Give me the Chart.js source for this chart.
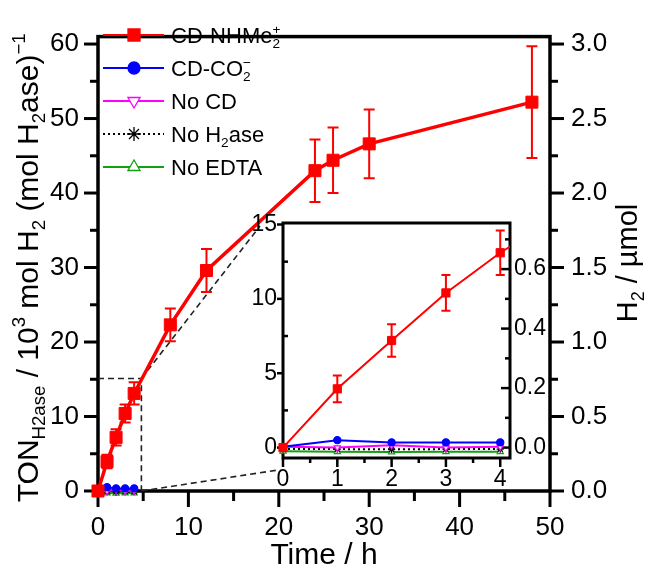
<!DOCTYPE html>
<html><head><meta charset="utf-8">
<script src="https://cdn.jsdelivr.net/npm/chart.js@4.4.1/dist/chart.umd.min.js"></script>
<style>
html,body{margin:0;padding:0;background:#fff;}
#wrap{position:relative;width:645px;height:573px;overflow:hidden;}
#main{position:absolute;left:0;top:0;}
#inset{position:absolute;left:230px;top:195px;}
</style></head>
<body><div id="wrap"><canvas id="main" width="645" height="573"></canvas><canvas id="inset" width="350" height="305"></canvas></div>
<script>
// ---------------- data ----------------
const seriesNames = ['CD-NHMe2+', 'CD-CO2-', 'No CD', 'No H2ase', 'No EDTA'];
const timeNH   = [0, 1, 2, 3, 4, 8, 12, 24, 26, 30, 48];
const tonNH    = [0, 3.95, 7.2, 10.4, 13.1, 22.3, 29.6, 43.0, 44.4, 46.6, 52.2];
const errNH    = [0, 0.9, 1.1, 1.2, 1.5, 2.2, 2.9, 4.2, 4.4, 4.6, 7.5];
const timeCtrl = [0, 1, 2, 3, 4];
const tonCO2     = [0.05, 0.5, 0.35, 0.35, 0.35];
const tonNoCD    = [0.05, 0.0, 0.15, 0.0, 0.05];
const tonNoH2ase = [-0.1, -0.1, -0.12, -0.1, -0.1];
const tonNoEDTA  = [-0.25, -0.28, -0.3, -0.28, -0.28];
const mainXTicks  = [0, 10, 20, 30, 40, 50];
const mainYTicks  = [0, 10, 20, 30, 40, 50, 60];
const mainY2Ticks = [0, 0.5, 1.0, 1.5, 2.0, 2.5, 3.0];
const insetXTicks  = [0, 1, 2, 3, 4];
const insetYTicks  = [0, 5, 10, 15];
const insetY2Ticks = [0, 0.2, 0.4, 0.6];
const TON_PER_UMOL = 20;   // 1 umol H2  <->  20 x10^3 TON
const MAIN_RANGE  = {xMin: 0, xMax: 50, yMin: 0, yMax: 61};
const INSET_RANGE = {xMin: 0, xMax: 4.18, yMin: -0.7, yMax: 15.1};
const ZOOM_BOX_X = 4.8;

// ---------------- styles ----------------
const FF = '"Liberation Sans", Arial, Helvetica, sans-serif';
const INSET_LEFT = 230, INSET_TOP = 195;
const styles = [
  {color: '#ff0000', fill: '#ff0000', pointStyle: 'rect', rotation: 0, dash: []},
  {color: '#0000ff', fill: '#0000ff', pointStyle: 'circle', rotation: 0, dash: []},
  {color: '#ff00ff', fill: '#ffffff', pointStyle: 'triangle', rotation: 180, dash: []},
  {color: '#000000', fill: '#000000', pointStyle: 'star', rotation: 0, dash: [2, 3]},
  {color: '#12a012', fill: '#ffffff', pointStyle: 'triangle', rotation: 0, dash: []}
];
const legendParts = [
  [{t: 'CD-NHMe'}, {k: 'both', t: '2', t2: '+'}],
  [{t: 'CD-CO'}, {k: 'both', t: '2', t2: '\u2212'}],
  [{t: 'No CD'}],
  [{t: 'No H'}, {k: 'sub', t: '2'}, {t: 'ase'}],
  [{t: 'No EDTA'}]
];

function pts(xs, ys) { return xs.map((x, i) => ({x: x, y: ys[i]})); }
const seriesData = [pts(timeNH, tonNH), pts(timeCtrl, tonCO2), pts(timeCtrl, tonNoCD), pts(timeCtrl, tonNoH2ase), pts(timeCtrl, tonNoEDTA)];

function makeDatasets(big) {
  return seriesData.map((d, i) => {
    const s = styles[i];
    const isMain = i === 0;
    return {
      label: seriesNames[i], data: d,
      borderColor: s.color, backgroundColor: s.fill,
      borderWidth: isMain ? (big ? 3.5 : 2) : 2,
      borderDash: s.dash,
      pointStyle: s.pointStyle, pointRotation: s.rotation,
      pointRadius: isMain ? (big ? 8.5 : 5.8) : 3.6,
      pointBorderColor: s.color, pointBackgroundColor: s.fill,
      pointBorderWidth: isMain ? 1 : 1.2,
      tension: 0,
      clip: big ? false : {left: 8, top: 0, right: 0, bottom: 8},
      order: i
    };
  });
}

// -------------- rich text ---------------
function setFont(ctx, size) { ctx.font = size + 'px ' + FF; }
function richWidth(ctx, parts, F) {
  let w = 0;
  for (const p of parts) {
    if (!p.k) { setFont(ctx, F); w += ctx.measureText(p.t).width; }
    else if (p.k === 'both') { setFont(ctx, F * 0.62); w += Math.max(ctx.measureText(p.t).width, ctx.measureText(p.t2).width); }
    else { setFont(ctx, F * 0.62); w += ctx.measureText(p.t).width; }
  }
  return w;
}
function drawRich(ctx, parts, x, y, F, align) {
  const w = richWidth(ctx, parts, F);
  let cx = align === 'center' ? x - w / 2 : (align === 'right' ? x - w : x);
  ctx.textAlign = 'left'; ctx.textBaseline = 'alphabetic'; ctx.fillStyle = '#000';
  const base = y + F * 0.36;
  for (const p of parts) {
    if (!p.k) { setFont(ctx, F); ctx.fillText(p.t, cx, base); cx += ctx.measureText(p.t).width; }
    else if (p.k === 'sub') { setFont(ctx, F * 0.62); ctx.fillText(p.t, cx, base + F * 0.24); cx += ctx.measureText(p.t).width; }
    else if (p.k === 'sup') { setFont(ctx, F * 0.62); ctx.fillText(p.t, cx, base - F * 0.42); cx += ctx.measureText(p.t).width; }
    else {
      setFont(ctx, F * 0.62);
      ctx.fillText(p.t, cx, base + F * 0.24);
      ctx.fillText(p.t2, cx, base - F * 0.42);
      cx += Math.max(ctx.measureText(p.t).width, ctx.measureText(p.t2).width);
    }
  }
}

function minorsOf(ticks, lo, hi) {
  const out = [];
  const step = ticks[1] - ticks[0];
  for (let i = 0; i < ticks.length; i++) {
    const m = ticks[i] + step / 2;
    if (m <= hi + 1e-9) out.push(m);
    if (i === 0 && ticks[0] - step / 2 >= lo) out.push(ticks[0] - step / 2);
  }
  return out;
}

function drawErrorBars(chart, half, lw) {
  const ctx = chart.ctx, meta = chart.getDatasetMeta(0), ys = chart.scales.y;
  ctx.save(); ctx.strokeStyle = styles[0].color; ctx.lineWidth = lw; ctx.setLineDash([]);
  meta.data.forEach((el, i) => {
    const e = errNH[i];
    if (!e || timeNH[i] > chart.scales.x.max) return;
    const yt = ys.getPixelForValue(tonNH[i] + e), yb = ys.getPixelForValue(tonNH[i] - e);
    ctx.beginPath();
    ctx.moveTo(el.x, yt); ctx.lineTo(el.x, yb);
    ctx.moveTo(el.x - half, yt); ctx.lineTo(el.x + half, yt);
    ctx.moveTo(el.x - half, yb); ctx.lineTo(el.x + half, yb);
    ctx.stroke();
  });
  ctx.restore();
}

function tickFix(list) { return s => { s.ticks = list.map(v => ({value: v})); }; }

// ---------------- inset chart ----------------
const insetPlugin = {
  id: 'insetDeco',
  beforeDraw(chart) {
    const a = chart.chartArea, ctx = chart.ctx;
    ctx.save(); ctx.fillStyle = '#fff'; ctx.fillRect(a.left, a.top, a.right - a.left, a.bottom - a.top); ctx.restore();
  },
  beforeDatasetsDraw(chart) {
    const a = chart.chartArea, ctx = chart.ctx;
    const sx = chart.scales.x, sy = chart.scales.y, sy2 = chart.scales.y2;
    ctx.save();
    ctx.strokeStyle = '#000'; ctx.setLineDash([]);
    ctx.lineWidth = 2.5;
    insetXTicks.forEach(v => { const x = sx.getPixelForValue(v); ctx.beginPath(); ctx.moveTo(x, a.bottom); ctx.lineTo(x, a.bottom + 9); ctx.stroke(); });
    minorsOf(insetXTicks, INSET_RANGE.xMin, INSET_RANGE.xMax).forEach(v => { const x = sx.getPixelForValue(v); ctx.beginPath(); ctx.moveTo(x, a.bottom); ctx.lineTo(x, a.bottom + 5); ctx.stroke(); });
    insetYTicks.forEach(v => { const y = sy.getPixelForValue(v); ctx.beginPath(); ctx.moveTo(a.left, y); ctx.lineTo(a.left - 6, y); ctx.stroke(); });
    minorsOf(insetYTicks, INSET_RANGE.yMin, INSET_RANGE.yMax).forEach(v => { const y = sy.getPixelForValue(v); ctx.beginPath(); ctx.moveTo(a.left, y); ctx.lineTo(a.left + 5, y); ctx.stroke(); });
    insetY2Ticks.forEach(v => { const y = sy2.getPixelForValue(v); ctx.beginPath(); ctx.moveTo(a.right, y); ctx.lineTo(a.right - 9, y); ctx.stroke(); });
    minorsOf(insetY2Ticks, sy2.min, sy2.max).forEach(v => { const y = sy2.getPixelForValue(v); ctx.beginPath(); ctx.moveTo(a.right, y); ctx.lineTo(a.right - 5, y); ctx.stroke(); });
    ctx.lineWidth = 3;
    ctx.strokeRect(a.left, a.top, a.right - a.left, a.bottom - a.top);
    ctx.restore();
    drawErrorBars(chart, 4.5, 2);
  }
};
const insetTickFont = {family: FF, size: 23};
const insetChart = new Chart(document.getElementById('inset'), {
  type: 'line',
  data: {datasets: makeDatasets(false)},
  options: {
    responsive: false, animation: false, events: [],
    layout: {padding: {top: 28, left: 0, right: 0, bottom: 0}},
    plugins: {legend: {display: false}, tooltip: {enabled: false}},
    scales: {
      x: {type: 'linear', position: 'bottom', min: INSET_RANGE.xMin, max: INSET_RANGE.xMax,
          grid: {display: false, drawTicks: false}, border: {display: false},
          afterBuildTicks: tickFix(insetXTicks), afterFit: s => { s.height = 42; },
          ticks: {font: insetTickFont, color: '#000', padding: 8, autoSkip: false, maxRotation: 0}},
      y: {type: 'linear', position: 'left', min: INSET_RANGE.yMin, max: INSET_RANGE.yMax,
          grid: {display: false, drawTicks: false}, border: {display: false},
          afterBuildTicks: tickFix(insetYTicks), afterFit: s => { s.width = 53; },
          ticks: {font: insetTickFont, color: '#000', padding: 6, autoSkip: false}},
      y2: {type: 'linear', position: 'right', min: INSET_RANGE.yMin / TON_PER_UMOL, max: INSET_RANGE.yMax / TON_PER_UMOL,
          grid: {display: false, drawTicks: false}, border: {display: false},
          afterBuildTicks: tickFix(insetY2Ticks), afterFit: s => { s.width = 70; },
          ticks: {font: insetTickFont, color: '#000', padding: 4, autoSkip: false, callback: v => Number(v).toFixed(1)}}
    }
  },
  plugins: [insetPlugin]
});

// ---------------- main chart ----------------
const leftTitle = [{t: 'TON'}, {k: 'sub', t: 'H2ase'}, {t: ' / 10'}, {k: 'sup', t: '3'}, {t: ' mol H'}, {k: 'sub', t: '2'},
                   {t: ' (mol H'}, {k: 'sub', t: '2'}, {t: 'ase)'}, {k: 'sup', t: '\u22121'}];
const rightTitle = [{t: 'H'}, {k: 'sub', t: '2'}, {t: ' / \u00b5mol'}];
const bottomTitle = [{t: 'Time / h'}];

const mainPlugin = {
  id: 'mainDeco',
  beforeDatasetsDraw(chart) {
    const a = chart.chartArea, ctx = chart.ctx;
    const sx = chart.scales.x, sy = chart.scales.y, sy2 = chart.scales.y2;
    ctx.save();
    ctx.strokeStyle = '#000'; ctx.setLineDash([]);
    ctx.lineWidth = 3;
    mainXTicks.forEach(v => { const x = sx.getPixelForValue(v); ctx.beginPath(); ctx.moveTo(x, a.bottom); ctx.lineTo(x, a.bottom + 16); ctx.stroke(); });
    minorsOf(mainXTicks, MAIN_RANGE.xMin, MAIN_RANGE.xMax).forEach(v => { const x = sx.getPixelForValue(v); ctx.beginPath(); ctx.moveTo(x, a.bottom); ctx.lineTo(x, a.bottom + 10); ctx.stroke(); });
    mainYTicks.forEach(v => { const y = sy.getPixelForValue(v); ctx.beginPath(); ctx.moveTo(a.left, y); ctx.lineTo(a.left - 14, y); ctx.stroke(); });
    minorsOf(mainYTicks, MAIN_RANGE.yMin, MAIN_RANGE.yMax).forEach(v => { const y = sy.getPixelForValue(v); ctx.beginPath(); ctx.moveTo(a.left, y); ctx.lineTo(a.left - 8, y); ctx.stroke(); });
    mainY2Ticks.forEach(v => { const y = sy2.getPixelForValue(v); ctx.beginPath(); ctx.moveTo(a.right, y); ctx.lineTo(a.right + 14, y); ctx.stroke(); });
    minorsOf(mainY2Ticks, sy2.min, sy2.max).forEach(v => { const y = sy2.getPixelForValue(v); ctx.beginPath(); ctx.moveTo(a.right, y); ctx.lineTo(a.right + 8, y); ctx.stroke(); });
    ctx.lineWidth = 3.5;
    ctx.strokeRect(a.left, a.top, a.right - a.left, a.bottom - a.top);

    // zoom box + connector lines
    const ia = insetChart.chartArea;
    const bx = sx.getPixelForValue(ZOOM_BOX_X), byT = sy.getPixelForValue(INSET_RANGE.yMax), byB = sy.getPixelForValue(0);
    ctx.strokeStyle = '#222'; ctx.lineWidth = 1.6; ctx.setLineDash([6, 4]);
    ctx.beginPath();
    ctx.moveTo(a.left, byT); ctx.lineTo(bx, byT); ctx.lineTo(bx, byB);
    ctx.moveTo(bx, byT); ctx.lineTo(INSET_LEFT + ia.left - 23, INSET_TOP + ia.top + 3);
    ctx.moveTo(bx, byB); ctx.lineTo(INSET_LEFT + ia.left - 5, INSET_TOP + ia.bottom + 12);
    ctx.stroke();
    ctx.setLineDash([]);
    ctx.restore();
    drawErrorBars(chart, 5.5, 2);
  },
  afterDraw(chart) {
    const a = chart.chartArea, ctx = chart.ctx;
    ctx.save();
    // legend
    const lx0 = a.left + 5, lx1 = a.left + 66, mx = a.left + 36, tx = a.left + 73;
    legendParts.forEach((parts, i) => {
      const s = styles[i];
      const y = 35 + i * 33;
      ctx.strokeStyle = s.color; ctx.lineWidth = 2; ctx.setLineDash(s.dash);
      ctx.beginPath(); ctx.moveTo(lx0, y); ctx.lineTo(lx1, y); ctx.stroke();
      ctx.setLineDash([]);
      ctx.fillStyle = s.fill; ctx.strokeStyle = s.color; ctx.lineWidth = 1.3;
      const r = i === 0 ? 8.5 : (i === 1 ? 6 : 7);
      Chart.helpers.drawPoint(ctx, {pointStyle: s.pointStyle, rotation: s.rotation, radius: r, borderWidth: 1.3}, mx, y);
      drawRich(ctx, parts, tx, y, 22, 'left');
    });

    // axis titles
    ctx.save(); ctx.translate(27, (a.top + a.bottom) / 2 + 4); ctx.rotate(-Math.PI / 2);
    drawRich(ctx, leftTitle, 0, 0, 30, 'center'); ctx.restore();
    ctx.save(); ctx.translate(627, 263); ctx.rotate(-Math.PI / 2);
    drawRich(ctx, rightTitle, 0, 0, 29, 'center'); ctx.restore();
    drawRich(ctx, bottomTitle, (a.left + a.right) / 2, 553, 30, 'center');
    ctx.restore();
  }
};
const mainTickFont = {family: FF, size: 26};
new Chart(document.getElementById('main'), {
  type: 'line',
  data: {datasets: makeDatasets(true)},
  options: {
    responsive: false, animation: false, events: [],
    layout: {padding: {top: 15, left: 0, right: 0, bottom: 0}},
    plugins: {legend: {display: false}, tooltip: {enabled: false}},
    scales: {
      x: {type: 'linear', position: 'bottom', min: MAIN_RANGE.xMin, max: MAIN_RANGE.xMax,
          grid: {display: false, drawTicks: false}, border: {display: false},
          afterBuildTicks: tickFix(mainXTicks), afterFit: s => { s.height = 82; },
          ticks: {font: mainTickFont, color: '#000', padding: 21, autoSkip: false, maxRotation: 0}},
      y: {type: 'linear', position: 'left', min: MAIN_RANGE.yMin, max: MAIN_RANGE.yMax,
          grid: {display: false, drawTicks: false}, border: {display: false},
          afterBuildTicks: tickFix(mainYTicks), afterFit: s => { s.width = 98; },
          ticks: {font: mainTickFont, color: '#000', padding: 19, autoSkip: false}},
      y2: {type: 'linear', position: 'right', min: MAIN_RANGE.yMin / TON_PER_UMOL, max: MAIN_RANGE.yMax / TON_PER_UMOL,
          grid: {display: false, drawTicks: false}, border: {display: false},
          afterBuildTicks: tickFix(mainY2Ticks), afterFit: s => { s.width = 95; },
          ticks: {font: mainTickFont, color: '#000', padding: 21, autoSkip: false, callback: v => Number(v).toFixed(1)}}
    }
  },
  plugins: [mainPlugin]
});
</script>
</body></html>
